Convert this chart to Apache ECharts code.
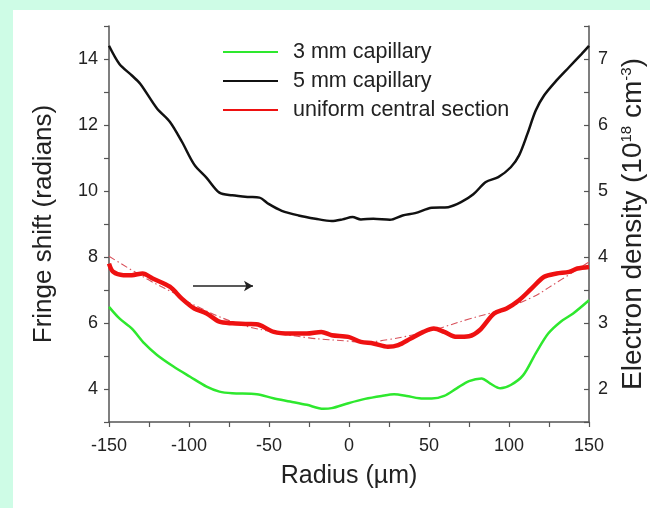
<!DOCTYPE html>
<html><head><meta charset="utf-8">
<script src="https://cdn.jsdelivr.net/npm/echarts@6/dist/echarts.min.js"></script>
<style>
html,body{margin:0;padding:0;background:#cefce6;}
#wrap{position:relative;width:650px;height:508px;background:#cefce6;overflow:hidden;}
#panel{position:absolute;left:13px;top:10px;right:0;bottom:0;background:#ffffff;}
#chart{position:absolute;left:0;top:0;width:650px;height:508px;}
</style></head>
<body><div id="wrap"><div id="panel"></div><div id="chart"></div></div>
<script>
// Radius (µm) values with fringe shift (radians)
const cap5X = [-150,-143.5,-135.7,-130.5,-120,-112,-104.5,-96.7,-89,-81,-73,-63,-56,-50,-42,-31.6,-21,-10.8,-4,2.2,7.4,15.2,25.6,33.5,41.3,51.7,62,70,77.7,85.5,93.3,101.1,106.3,111.5,116.7,122,129.7,137.5,145.3,150];
const cap5Y = [14.4,13.85,13.5,13.25,12.5,12.1,11.5,10.8,10.4,9.95,9.87,9.82,9.8,9.6,9.4,9.26,9.16,9.09,9.14,9.21,9.14,9.16,9.13,9.26,9.33,9.49,9.51,9.66,9.9,10.27,10.42,10.72,11.08,11.73,12.44,12.9,13.35,13.75,14.15,14.4];

const uniX = [-150,-147.4,-141,-135.7,-129,-122.7,-112,-104.5,-96.7,-89,-81,-73,-63,-56,-47,-36.8,-26.4,-17.3,-10.8,-0.4,7.4,15.2,24.3,30.8,38.6,46.5,53,59.5,67.3,75,81.6,90.7,98.5,106.3,114,122,129.7,137.5,142.7,150];
const uniY = [7.8,7.55,7.45,7.45,7.5,7.35,7.1,6.74,6.44,6.29,6.04,5.99,5.97,5.94,5.73,5.68,5.68,5.73,5.63,5.58,5.43,5.38,5.28,5.33,5.53,5.73,5.83,5.73,5.58,5.6,5.78,6.29,6.44,6.69,7.04,7.4,7.5,7.55,7.65,7.7];

const cap3X = [-150,-143.5,-135.7,-127.9,-120,-109.7,-99.3,-89,-81,-73,-57.6,-47.3,-36.8,-26.4,-16,-10.8,-0.4,10,20.4,28.2,36,43.9,51.7,59.5,67.3,75,82.9,88.1,94.6,101.1,108.9,116.7,124.5,132.3,140.1,150];
const cap3Y = [6.49,6.14,5.83,5.38,5.03,4.68,4.37,4.07,3.92,3.87,3.84,3.72,3.62,3.52,3.4,3.42,3.57,3.7,3.79,3.84,3.79,3.72,3.71,3.79,4.02,4.24,4.32,4.17,4.02,4.12,4.42,5.08,5.68,6.04,6.29,6.69];

const fitX = [-150,-125,-105,-100,-72.5,-50,-25,0,7,25,52.5,75,94.4,115,125,150];
const fitY = [8.02,7.3,6.79,6.62,6.03,5.75,5.55,5.45,5.42,5.5,5.79,6.12,6.39,6.79,7.08,7.85];

const arrowStart = [-97.5, 7.12];
const arrowEnd = [-60, 7.12];

const xTicks = {min:-150, max:150, step:25, labelStep:50};
const leftTicks = {min:3, max:15, step:1};
const rightTicks = {min:1.5, max:7.5, step:0.5};

const names = ['3 mm capillary','5 mm capillary','uniform central section'];

function pairs(xs, ys){ return xs.map((x,i)=>[x, ys[i]]); }

const FONT = 'Liberation Sans, Arial, sans-serif';
const axisCol = '#555555';
const txtCol = '#222222';

const chart = echarts.init(document.getElementById('chart'), null, {renderer:'canvas'});
chart.setOption({
  backgroundColor: 'transparent',
  animation: false,
  grid: {left:109, right:61, top:26, bottom:86, containLabel:false, outerBoundsMode:'none'},
  legend: {
    data: names,
    orient: 'vertical',
    left: 217, top: 36,
    itemWidth: 55, itemHeight: 14, itemGap: 7,
    itemStyle: {opacity: 0},
    textStyle: {fontFamily: FONT, fontSize: 21.5, color: txtCol, lineHeight: 21, padding:[0,0,0,10]}
  },
  xAxis: {
    type: 'value', min: xTicks.min, max: xTicks.max, interval: xTicks.step,
    name: 'Radius (\u00b5m)', nameLocation: 'middle', nameGap: 42,
    nameTextStyle: {fontFamily: FONT, fontSize: 25, color: txtCol},
    axisLine: {show:true, onZero:false, lineStyle:{color:axisCol, width:1.5}},
    axisTick: {show:true, length:5, lineStyle:{color:axisCol, width:1.2}},
    axisLabel: {fontFamily: FONT, fontSize: 18, color: txtCol, margin: 15,
      formatter: v => (Math.round(v) % xTicks.labelStep === 0 ? String(v) : '')},
    splitLine: {show:false}
  },
  yAxis: [{
    type: 'value', position: 'left', min: leftTicks.min, max: leftTicks.max, interval: leftTicks.step,
    name: 'Fringe shift (radians)', nameLocation: 'middle', nameGap: 52, nameRotate: 90,
    nameTextStyle: {fontFamily: FONT, fontSize: 26, color: txtCol},
    axisLine: {show:true, onZero:false, lineStyle:{color:axisCol, width:1.5}},
    axisTick: {show:true, length:5, lineStyle:{color:axisCol, width:1.2}},
    axisLabel: {fontFamily: FONT, fontSize: 18, color: txtCol, margin: 11,
      formatter: v => (v % 2 === 0 && v > leftTicks.min && v < leftTicks.max ? String(v) : '')},
    splitLine: {show:false}
  },{
    type: 'value', position: 'right', min: rightTicks.min, max: rightTicks.max, interval: rightTicks.step,
    name: 'Electron density (10{sup|18} cm{sup|-3})', nameLocation: 'middle', nameGap: 30, nameRotate: 90,
    nameTextStyle: {fontFamily: FONT, fontSize: 28, color: txtCol,
      rich: {sup: {fontFamily: FONT, fontSize: 15, color: txtCol, verticalAlign: 'top', padding:[0,0,14,0]}}},
    axisLine: {show:true, onZero:false, lineStyle:{color:axisCol, width:1.5}},
    axisTick: {show:true, inside:true, length:5, lineStyle:{color:axisCol, width:1.2}},
    axisLabel: {fontFamily: FONT, fontSize: 18, color: txtCol, margin: 9,
      formatter: v => (Number.isInteger(v) ? String(v) : '')},
    splitLine: {show:false}
  }],
  series: [
    {name: 'fit', type:'line', data: pairs(fitX, fitY), symbol:'none', smooth:0.4, z:1,
     lineStyle:{color:'#d8505a', width:1.1, type:[7,3,1.5,3]},
     markLine:{silent:true, symbol:['none','arrow'], symbolSize:[8,9],
       label:{show:false},
       lineStyle:{color:'#222222', width:1.5, type:'solid'},
       data:[[{coord: arrowStart},{coord: arrowEnd}]]}},
    {name: names[0], type:'line', data: pairs(cap3X, cap3Y), symbol:'none', smooth:0.3,
     lineStyle:{color:'#2ee82e', width:2.5}, itemStyle:{color:'#2ee82e'}},
    {name: names[1], type:'line', data: pairs(cap5X, cap5Y), symbol:'none', smooth:0.3,
     lineStyle:{color:'#111111', width:2.5}, itemStyle:{color:'#111111'}},
    {name: names[2], type:'line', data: pairs(uniX, uniY), symbol:'none', smooth:0.3,
     lineStyle:{color:'#ee1111', width:4.5}, itemStyle:{color:'#ee1111'}}
  ]
});
</script></body></html>
